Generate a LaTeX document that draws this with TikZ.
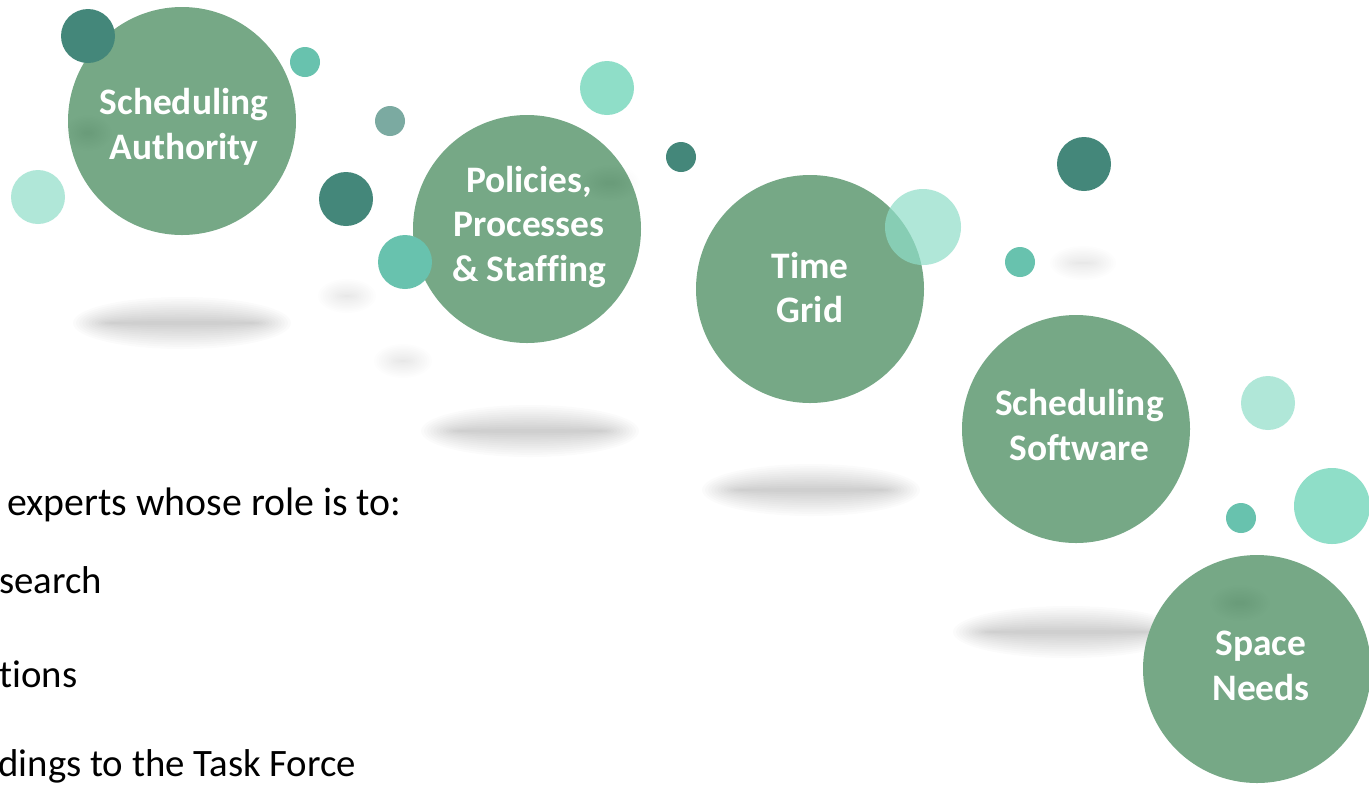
\documentclass[tikz,border=0pt]{standalone}
\usepackage{fontspec}
\setmainfont{Carlito}[Ligatures=NoCommon]
\definecolor{bigg}{HTML}{76A886}
\definecolor{darkt}{HTML}{44877A}
\definecolor{midt}{HTML}{68C2AE}
\definecolor{mint}{HTML}{8FDEC8}
\newcommand\softshadow[7]{%
  \foreach \k in {0,...,11}{%
    \fill[black,opacity=#7] (#1,#2) ellipse ({#3+#5-\k*#5/5.5} and {#4+#6-\k*#6/5.5});
  }}
\tikzset{
  bigc/.style={circle, fill=bigg, minimum size=114pt, inner sep=0pt},
  lbl/.style={inner sep=0pt, text=white, align=center,
    font=\bfseries\fontsize{18.7}{22.3}\selectfont},
  bodytxt/.style={anchor=base west, inner sep=0pt, text=black, font=\fontsize{19.9}{24}\selectfont},
  subtxt/.style={anchor=base west, inner sep=0pt, text=black, font=\fontsize{19.4}{24}\selectfont},
  darkdot/.style={fill=darkt},
  fadedot/.style={fill=darkt, fill opacity=0.7},
  middot/.style={fill=midt},
  mintdot/.style={fill=mint},
  lightdot/.style={fill=mint, fill opacity=0.7},
}
\begin{document}
\begin{tikzpicture}[x=0.5pt,y=-0.5pt]
\useasboundingbox (0,0) rectangle (1369,784);
\clip (0,0) rectangle (1369,784);
\fill[white] (0,0) rectangle (1369,784);

% ground shadows
\softshadow{182}{323}{92}{14}{17}{12}{0.0164}
\softshadow{530}{431}{92}{14}{17}{12}{0.0164}
\softshadow{811}{490}{92}{14}{17}{12}{0.0164}
\softshadow{1068}{632}{98}{14}{17}{12}{0.0164}
\softshadow{347}{296}{16}{8}{13}{9}{0.007}
\softshadow{403}{361}{16}{8}{13}{9}{0.007}
\softshadow{1083}{263}{20}{8}{13}{9}{0.006}

% big circles
\node[bigc] (sa) at (182,121) {};
\node[bigc] (pp) at (527,229) {};
\node[bigc] (tg) at (810,289) {};
\node[bigc] (ss) at (1076,429) {};
\node[bigc] (sn) at (1257,669) {};

% faint spots inside circles
\softshadow{88}{133}{14}{10}{10}{8}{0.0035}
\softshadow{610}{183}{18}{10}{12}{8}{0.0035}
\softshadow{1240}{603}{18}{10}{12}{8}{0.0028}

% small circles
\fill[darkdot] (88,36) circle (27);
\fill[middot] (305,62) circle (15);
\fill[fadedot] (390,121) circle (15);
\fill[lightdot] (38,197) circle (27);
\fill[darkdot] (346,199) circle (27);
\fill[middot] (405,262) circle (27);
\fill[mintdot] (607,88) circle (27);
\fill[darkdot] (681,157) circle (15);
\fill[lightdot] (923,227) circle (38);
\fill[middot] (1020,262) circle (15);
\fill[darkdot] (1084,164) circle (27);
\fill[lightdot] (1268,403) circle (27);
\fill[middot] (1241,518) circle (15);
\fill[mintdot] (1332,506) circle (38);

% circle labels
\node[lbl, xshift=1pt, yshift=-3pt] (lsa) at (sa.center) {Scheduling\\Authority};
\node[lbl, xshift=1pt, yshift=1pt] (lpp) at (pp.center) {Policies,\\Processes\\\&~Staffing};
\node[lbl, yshift=0.8pt] (ltg) at (tg.center) {Time\\Grid};
\node[lbl, xshift=1.7pt, yshift=2pt] (lss) at (ss.center) {Scheduling\\Software};
\node[lbl, xshift=2pt, yshift=1.5pt] (lsn) at (sn.center) {Space\\Needs};

% body text
\node[bodytxt] (t1) at (7,515) {experts whose role is to:};
\node[subtxt] (t2) at (-1,593) {search};
\node[subtxt] (t3) at (-1,687) {tions};
\node[subtxt] (t4) at (-2,776) {dings to the Task Force};
\end{tikzpicture}
\end{document}
